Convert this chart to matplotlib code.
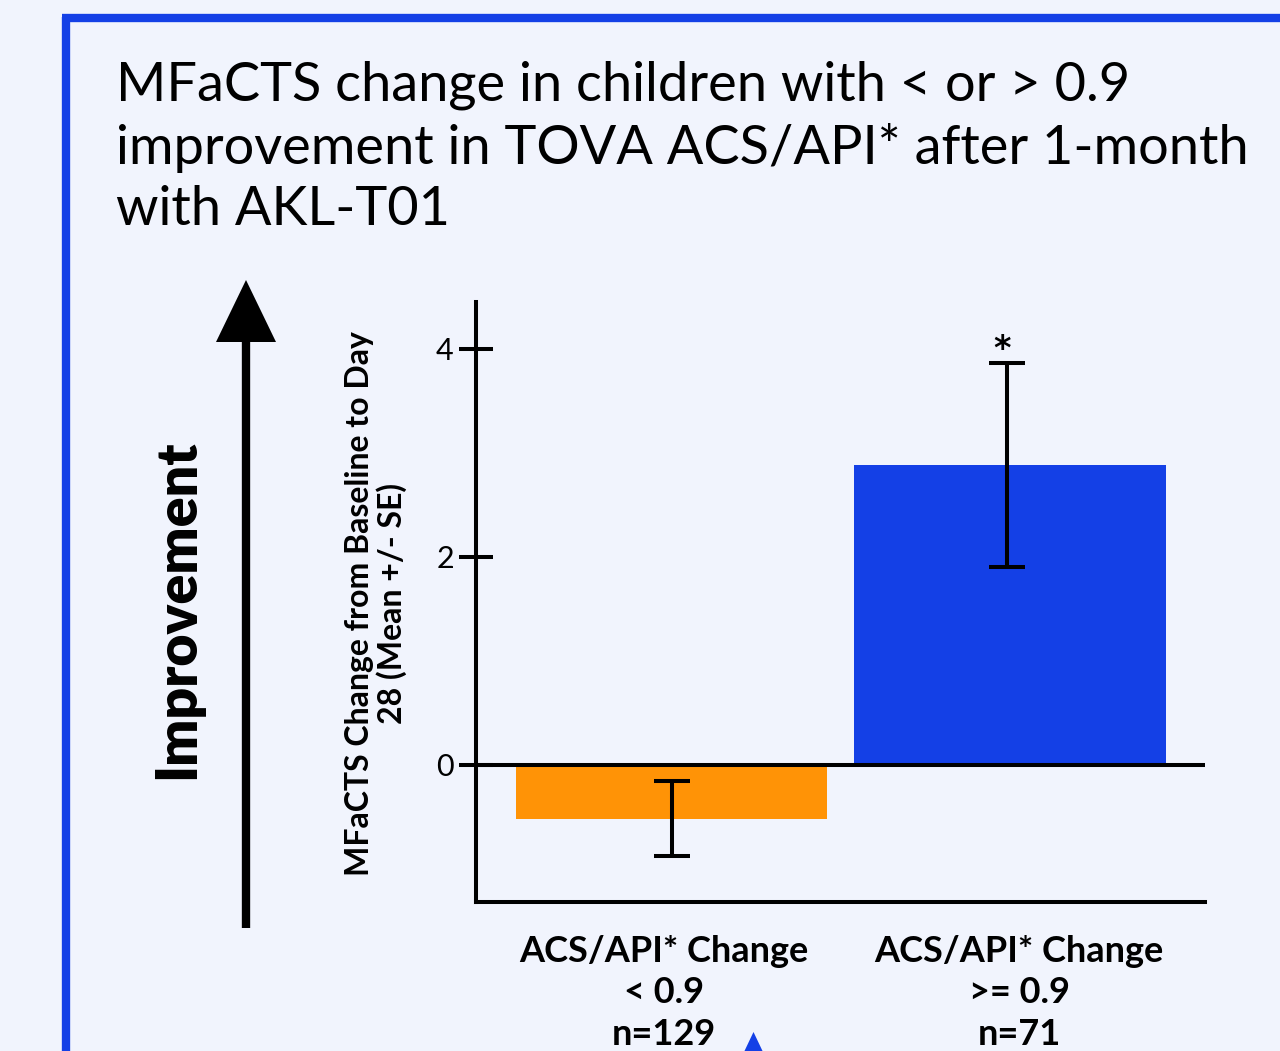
import matplotlib
matplotlib.use("Agg")
import matplotlib.pyplot as plt
from matplotlib.patches import Polygon
from matplotlib.lines import Line2D

plt.rcParams['font.family'] = ['Lato', 'DejaVu Sans']

# data
groups = ["ACS/API* Change\n< 0.9\nn=129", "ACS/API* Change\n>= 0.9\nn=71"]
means = [-0.52, 2.88]
se = [0.36, 0.98]
colors = ["#FF9306", "#1440E6"]
stars = ["", "*"]
yticks = [0, 2, 4]

bg = "#F1F4FD"
W, H = 1280, 1051
fig = plt.figure(figsize=(W / 100, H / 100), dpi=100, facecolor=bg)

def fx(px):
    return px / W

def fy(py):
    return 1 - py / H

# blue frame around the panel
fig.add_artist(Line2D([fx(65.5), fx(65.5)], [fy(17), fy(H + 5)], color="#1440E6", lw=6, solid_capstyle="butt"))
fig.add_artist(Line2D([fx(62), fx(W + 5)], [fy(17.5), fy(17.5)], color="#1440E6", lw=6, solid_capstyle="butt"))

# title
fig.text(fx(116), fy(61), "MFaCTS change in children with < or > 0.9\nimprovement in TOVA ACS/API* after 1-month\nwith AKL-T01",
         ha="left", va="top", fontsize=39, linespacing=1.3, color="black")

ax = fig.add_axes([fx(476), fy(902), fx(1205) - fx(476), fy(302) - fy(902)])
ax.set_facecolor(bg)

x = list(range(len(groups)))
ax.bar(x, means, width=0.92, color=colors, zorder=2)
ax.errorbar([xi - 0.01 * xi for xi in x], means, yerr=se, fmt="none", ecolor="black", elinewidth=2.9,
            capsize=13, capthick=2.9, zorder=4)
for xi, m, s, st in zip(x, means, se, stars):
    if st:
        ax.text(xi - 0.025, m + s - 0.03, st, ha="center", va="bottom", fontsize=24,
                fontweight="bold", family="DejaVu Sans")

ax.axhline(0, color="black", lw=2.9, zorder=3)
ax.set_xlim(-0.578, 1.576)
ax.set_ylim(-1.32, 4.45)
ax.set_yticks(yticks)
# labels sit a little off the bar centres in the original
ax.set_xticks([-0.022, 1.027])
ax.set_xticklabels(groups, fontsize=26, fontweight="bold", linespacing=1.3)
ax.tick_params(axis="x", length=0, pad=24)
ax.tick_params(axis="y", direction="inout", length=24, width=2.9, labelsize=22, pad=4)

for side in ["top", "right"]:
    ax.spines[side].set_visible(False)
for side in ["left", "bottom"]:
    ax.spines[side].set_linewidth(2.9)

fig.text(fx(376), fy(604), "MFaCTS Change from Baseline to Day\n28 (Mean +/- SE)",
         rotation=90, ha="center", va="center", fontsize=23, fontweight="bold", linespacing=1.1)

# improvement arrow
fig.text(fx(177), fy(609), "Improvement", rotation=90, ha="center", va="center",
         fontsize=40, fontweight="heavy")
fig.add_artist(Line2D([fx(246), fx(246)], [fy(928), fy(330)], color="black", lw=6, solid_capstyle="butt"))
fig.add_artist(Polygon([[fx(216), fy(342)], [fx(276), fy(342)], [fx(246), fy(280)]], closed=True,
                       facecolor="black", edgecolor="none"))

# small blue marker at the bottom edge
fig.add_artist(Polygon([[fx(744), fy(1052)], [fx(763), fy(1052)], [fx(753.5), fy(1032)]], closed=True,
                       facecolor="#1440E6", edgecolor="none"))

fig.savefig("out.png", dpi=100, facecolor=bg)
